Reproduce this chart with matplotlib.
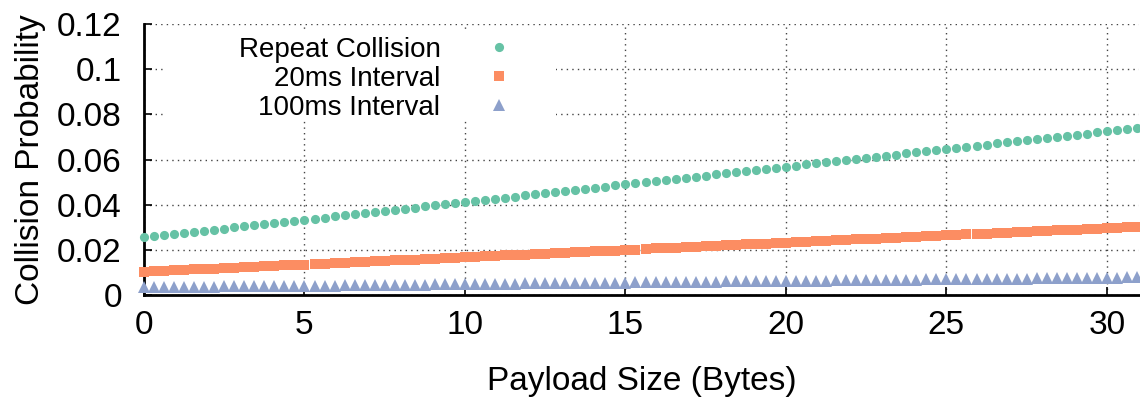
import matplotlib
matplotlib.use("Agg")
import matplotlib.pyplot as plt
from matplotlib.patches import Rectangle

plt.rcParams['font.family'] = ['Liberation Sans', 'DejaVu Sans']

# payload sizes (bytes)
payload = [
    0.0, 0.3125, 0.625, 0.9375, 1.25, 1.5625, 1.875, 2.1875, 2.5, 2.8125,
    3.125, 3.4375, 3.75, 4.0625, 4.375, 4.6875, 5.0, 5.3125, 5.625, 5.9375,
    6.25, 6.5625, 6.875, 7.1875, 7.5, 7.8125, 8.125, 8.4375, 8.75, 9.0625,
    9.375, 9.6875, 10.0, 10.3125, 10.625, 10.9375, 11.25, 11.5625, 11.875, 12.1875,
    12.5, 12.8125, 13.125, 13.4375, 13.75, 14.0625, 14.375, 14.6875, 15.0, 15.3125,
    15.625, 15.9375, 16.25, 16.5625, 16.875, 17.1875, 17.5, 17.8125, 18.125, 18.4375,
    18.75, 19.0625, 19.375, 19.6875, 20.0, 20.3125, 20.625, 20.9375, 21.25, 21.5625,
    21.875, 22.1875, 22.5, 22.8125, 23.125, 23.4375, 23.75, 24.0625, 24.375, 24.6875,
    25.0, 25.3125, 25.625, 25.9375, 26.25, 26.5625, 26.875, 27.1875, 27.5, 27.8125,
    28.125, 28.4375, 28.75, 29.0625, 29.375, 29.6875, 30.0, 30.3125, 30.625, 30.9375,
]

repeat_collision = [
    0.0255, 0.0260, 0.0265, 0.0270, 0.0275, 0.0279, 0.0284, 0.0289, 0.0294, 0.0299,
    0.0304, 0.0309, 0.0314, 0.0319, 0.0324, 0.0328, 0.0333, 0.0338, 0.0343, 0.0348,
    0.0353, 0.0358, 0.0363, 0.0368, 0.0372, 0.0377, 0.0382, 0.0387, 0.0392, 0.0397,
    0.0402, 0.0407, 0.0412, 0.0417, 0.0421, 0.0426, 0.0431, 0.0436, 0.0441, 0.0446,
    0.0451, 0.0456, 0.0461, 0.0465, 0.0470, 0.0475, 0.0480, 0.0485, 0.0490, 0.0495,
    0.0500, 0.0505, 0.0510, 0.0514, 0.0519, 0.0524, 0.0529, 0.0534, 0.0539, 0.0544,
    0.0549, 0.0554, 0.0558, 0.0563, 0.0568, 0.0573, 0.0578, 0.0583, 0.0588, 0.0593,
    0.0598, 0.0603, 0.0607, 0.0612, 0.0617, 0.0622, 0.0627, 0.0632, 0.0637, 0.0642,
    0.0647, 0.0651, 0.0656, 0.0661, 0.0666, 0.0671, 0.0676, 0.0681, 0.0686, 0.0691,
    0.0696, 0.0700, 0.0705, 0.0710, 0.0715, 0.0720, 0.0725, 0.0730, 0.0735, 0.0739,
]

interval_20ms = [
    0.0103, 0.0105, 0.0107, 0.0109, 0.0111, 0.0113, 0.0115, 0.0117, 0.0119, 0.0121,
    0.0123, 0.0125, 0.0127, 0.0129, 0.0131, 0.0133, 0.0135, 0.0137, 0.0139, 0.0141,
    0.0143, 0.0145, 0.0147, 0.0149, 0.0151, 0.0153, 0.0155, 0.0157, 0.0159, 0.0161,
    0.0163, 0.0165, 0.0167, 0.0169, 0.0171, 0.0173, 0.0175, 0.0177, 0.0179, 0.0181,
    0.0183, 0.0185, 0.0187, 0.0189, 0.0191, 0.0193, 0.0195, 0.0197, 0.0199, 0.0201,
    0.0204, 0.0206, 0.0208, 0.0210, 0.0212, 0.0214, 0.0216, 0.0218, 0.0220, 0.0222,
    0.0224, 0.0226, 0.0228, 0.0230, 0.0232, 0.0234, 0.0236, 0.0238, 0.0240, 0.0242,
    0.0244, 0.0246, 0.0248, 0.0250, 0.0252, 0.0254, 0.0256, 0.0258, 0.0260, 0.0262,
    0.0264, 0.0266, 0.0268, 0.0270, 0.0272, 0.0274, 0.0276, 0.0278, 0.0280, 0.0282,
    0.0284, 0.0286, 0.0288, 0.0290, 0.0292, 0.0294, 0.0296, 0.0298, 0.0300, 0.0302,
]

interval_100ms = [
    0.0034, 0.0034, 0.0035, 0.0035, 0.0036, 0.0036, 0.0037, 0.0037, 0.0038, 0.0038,
    0.0038, 0.0039, 0.0039, 0.0040, 0.0040, 0.0041, 0.0041, 0.0042, 0.0042, 0.0042,
    0.0043, 0.0043, 0.0044, 0.0044, 0.0045, 0.0045, 0.0046, 0.0046, 0.0046, 0.0047,
    0.0047, 0.0048, 0.0048, 0.0049, 0.0049, 0.0050, 0.0050, 0.0050, 0.0051, 0.0051,
    0.0052, 0.0052, 0.0053, 0.0053, 0.0054, 0.0054, 0.0054, 0.0055, 0.0055, 0.0056,
    0.0056, 0.0057, 0.0057, 0.0058, 0.0058, 0.0058, 0.0059, 0.0059, 0.0060, 0.0060,
    0.0061, 0.0061, 0.0062, 0.0062, 0.0062, 0.0063, 0.0063, 0.0064, 0.0064, 0.0065,
    0.0065, 0.0066, 0.0066, 0.0066, 0.0067, 0.0067, 0.0068, 0.0068, 0.0069, 0.0069,
    0.0070, 0.0070, 0.0070, 0.0071, 0.0071, 0.0072, 0.0072, 0.0073, 0.0073, 0.0074,
    0.0074, 0.0074, 0.0075, 0.0075, 0.0076, 0.0076, 0.0077, 0.0077, 0.0078, 0.0078,
]

x_ticks = [0, 5, 10, 15, 20, 25, 30]
y_ticks = [0, 0.02, 0.04, 0.06, 0.08, 0.1, 0.12]
y_tick_labels = ["0", "0.02", "0.04", "0.06", "0.08", "0.1", "0.12"]

fig = plt.figure(figsize=(11.4, 4.03), dpi=100)
ax = fig.add_axes([144 / 1140, 1 - 295 / 403, (1139 - 144) / 1140, (295 - 24) / 403])

ax.plot(payload, repeat_collision, 'o', color='#66c2a5', markersize=6.6,
        markeredgewidth=0, label="Repeat Collision", clip_on=False, zorder=3)
ax.plot(payload, interval_20ms, 's', color='#fc8d62', markersize=6.6,
        markeredgewidth=0, label="20ms Interval", clip_on=False, zorder=3)
ax.plot(payload, interval_100ms, '^', color='#8da0cb', markersize=8,
        markeredgewidth=0, label="100ms Interval", clip_on=False, zorder=3)

ax.set_xlim(0, 31)
ax.set_ylim(0, 0.12)
ax.set_xticks(x_ticks)
ax.set_yticks(y_ticks)
ax.set_yticklabels(y_tick_labels)
ax.tick_params(direction='in', length=6, width=1.2, labelsize=24, pad=11)
ax.tick_params(axis='y', pad=16)

ax.grid(True, linestyle=(0, (1, 3)), color='#444444', linewidth=1)
for side in ['top', 'right']:
    ax.spines[side].set_visible(False)
for side in ['left', 'bottom']:
    ax.spines[side].set_linewidth(2)

ax.set_xlabel("Payload Size (Bytes)", fontsize=24, labelpad=18)
ax.set_ylabel("Collision Probability", fontsize=24, labelpad=8)

# white box behind the key, blanking the grid like gnuplot does
ax.add_patch(Rectangle((0.019, 0.646), 0.395, 0.321, transform=ax.transAxes,
                       facecolor='white', edgecolor='none', zorder=2))

leg = ax.legend(loc='upper right', bbox_to_anchor=(0.3845, 0.952), frameon=False,
                markerfirst=False, fontsize=20, handlelength=2.0, handletextpad=1.1,
                labelspacing=0.1, borderpad=0, borderaxespad=0, numpoints=1)
for col in leg._legend_handle_box.get_children():
    col.align = "right"

fig.savefig("out.png", dpi=100)
